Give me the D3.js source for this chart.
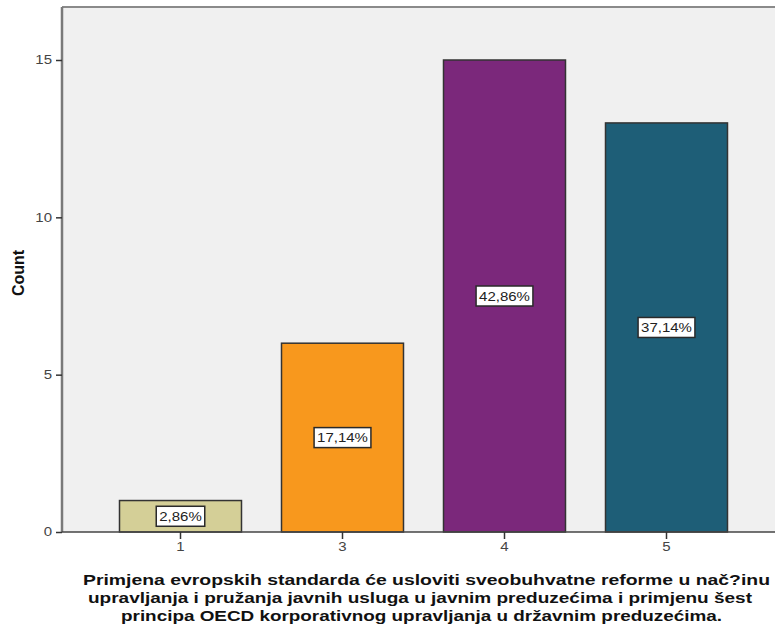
<!DOCTYPE html>
<html>
<head>
<meta charset="utf-8">
<script src="https://cdn.jsdelivr.net/npm/d3@7"></script>
<style>
  html, body { margin: 0; padding: 0; background: #ffffff; }
  svg { display: block; font-family: "Liberation Sans", Arial, sans-serif; }
</style>
</head>
<body>
<svg id="chart" width="775" height="629"></svg>
<script>
// Response categories and their counts
const categories = ["1", "3", "4", "5"];
const counts = [1, 6, 15, 13];
const percentLabels = ["2,86%", "17,14%", "42,86%", "37,14%"];
const barColors = ["#d4cf97", "#f8981d", "#7b287b", "#1e5e77"];
const yTicks = [0, 5, 10, 15];
const xTitleLines = [
  "Primjena evropskih standarda će usloviti sveobuhvatne reforme u nač?inu",
  "upravljanja i pružanja javnih usluga u javnim preduzećima i primjenu šest",
  "principa OECD korporativnog upravljanja u državnim preduzećima."
];

// Layout of the three title lines (centre x, width in px)
const titleLayout = [
  { cx: 426.5, w: 687 },
  { cx: 420, w: 664 },
  { cx: 421.5, w: 601 }
];

// Text in this chart is drawn slightly wide
const stretch = 1.25;

const svg = d3.select("#chart");
const plot = { left: 62, top: 7, right: 790, bottom: 532 };

// Scales
const x = d3.scaleBand()
  .domain(categories)
  .range([99.5, 747.5])
  .paddingInner(0.247)
  .paddingOuter(0.1235);

const y = d3.scaleLinear()
  .domain([0, 15])
  .range([plot.bottom, 60]);

// Plot background
svg.append("rect")
  .attr("x", plot.left).attr("y", plot.top)
  .attr("width", plot.right - plot.left).attr("height", plot.bottom - plot.top)
  .attr("fill", "#f0f0f0");

// Bars
const data = categories.map((c, i) => ({ c, v: counts[i], label: percentLabels[i], color: barColors[i] }));

svg.append("g").selectAll("rect")
  .data(data)
  .join("rect")
  .attr("x", d => x(d.c))
  .attr("y", d => y(d.v))
  .attr("width", x.bandwidth())
  .attr("height", d => y(0) - y(d.v))
  .attr("fill", d => d.color)
  .attr("stroke", "#333333")
  .attr("stroke-width", 1.5);

// Frame: top border
svg.append("line")
  .attr("x1", plot.left).attr("x2", plot.right)
  .attr("y1", plot.top).attr("y2", plot.top)
  .attr("stroke", "#8a8a8a").attr("stroke-width", 2);

// Y axis
const yAxis = d3.axisLeft(y).tickValues(yTicks).tickSize(6).tickPadding(2);
const gy = svg.append("g").attr("transform", `translate(${plot.left},0)`).call(yAxis);
gy.select(".domain").attr("stroke", "#7a7a7a").attr("stroke-width", 2.5)
  .attr("d", `M0,${plot.top}V${plot.bottom}`);
gy.selectAll(".tick line").attr("stroke", "#333").attr("stroke-width", 1.5);
gy.selectAll(".tick text").attr("fill", "#444").style("font-size", "12px")
  .attr("transform", `scale(${stretch},1)`);

// X axis
const xAxis = d3.axisBottom(x).tickSize(7).tickPadding(3);
const gx = svg.append("g").attr("transform", `translate(0,${plot.bottom})`).call(xAxis);
gx.select(".domain").attr("stroke", "#444").attr("stroke-width", 1.5)
  .attr("d", `M${plot.left},0H${plot.right}`);
gx.selectAll(".tick line").attr("stroke", "#333").attr("stroke-width", 1.5);
gx.selectAll(".tick text").attr("fill", "#444").style("font-size", "12px")
  .attr("transform", `scale(${stretch},1)`);

// Percentage labels in the middle of each bar
const labels = svg.append("g").selectAll("g")
  .data(data)
  .join("g")
  .attr("transform", d => `translate(${x(d.c) + x.bandwidth() / 2},${y(d.v / 2)})`);

labels.append("text")
  .attr("text-anchor", "middle")
  .attr("dy", "0.36em")
  .attr("fill", "#222")
  .attr("transform", `scale(${stretch * 0.96},1)`)
  .style("font-size", "12.5px")
  .text(d => d.label);

labels.each(function () {
  const g = d3.select(this);
  const bb = g.select("text").node().getBBox();
  const w = bb.width * stretch * 0.96 + 6;
  g.insert("rect", "text")
    .attr("x", -w / 2).attr("y", -10)
    .attr("width", w).attr("height", 20)
    .attr("fill", "#ffffff")
    .attr("stroke", "#2a2a2a")
    .attr("stroke-width", 1.5);
});

// Y axis title
svg.append("text")
  .attr("transform", `translate(24,273) rotate(-90)`)
  .attr("text-anchor", "middle")
  .attr("font-weight", "bold")
  .attr("fill", "#111")
  .style("font-size", "16px")
  .text("Count");

// X axis title, one text element per line
svg.append("g").selectAll("text")
  .data(xTitleLines)
  .join("text")
  .attr("x", (d, i) => titleLayout[i].cx - titleLayout[i].w / 2)
  .attr("y", (d, i) => 585 + i * 18)
  .attr("textLength", (d, i) => titleLayout[i].w)
  .attr("lengthAdjust", "spacingAndGlyphs")
  .attr("font-weight", "bold")
  .attr("fill", "#111")
  .style("font-size", "15.5px")
  .text(d => d);
</script>
</body>
</html>
